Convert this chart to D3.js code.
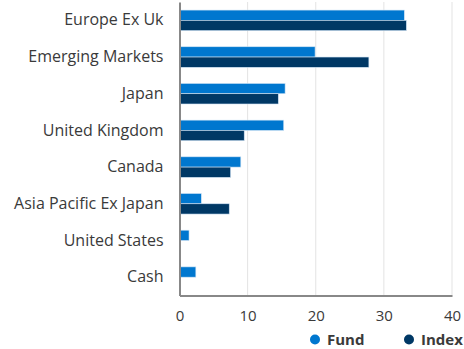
<!DOCTYPE html>
<html>
<head>
<meta charset="utf-8">
<script src="https://cdn.jsdelivr.net/npm/d3@7"></script>
<style>
  html, body { margin: 0; padding: 0; background: #fff; }
  svg { display: block; font-family: "Open Sans", "Noto Sans", sans-serif; }
</style>
</head>
<body>
<svg id="chart" width="464" height="349"></svg>
<script>
// Regional allocation, fund vs index (%)
const regions = ["Europe Ex Uk", "Emerging Markets", "Japan", "United Kingdom", "Canada", "Asia Pacific Ex Japan", "United States", "Cash"];
const fundValues = [33.0, 19.9, 15.5, 15.3, 9.0, 3.2, 1.4, 2.4];
const indexValues = [33.3, 27.8, 14.5, 9.5, 7.5, 7.3, 0, 0];
const seriesNames = ["Fund", "Index"];
const seriesColors = ["#0077cf", "#003865"];
const xTicks = [0, 10, 20, 30, 40];

const svg = d3.select("#chart");
const margin = { left: 179.5, right: 12, top: 2, bottom: 53.5 };
const width = 464, height = 349;

const x = d3.scaleLinear().domain([0, 40]).range([margin.left, width - margin.right]);
const y = d3.scaleBand().domain(regions).range([margin.top, height - margin.bottom]).paddingInner(0.44).paddingOuter(0.22);
const ySub = d3.scaleBand().domain(seriesNames).range([0, y.bandwidth()]);

// Vertical gridlines
svg.append("g")
  .selectAll("line")
  .data(xTicks.slice(1))
  .join("line")
  .attr("x1", d => x(d)).attr("x2", d => x(d))
  .attr("y1", margin.top).attr("y2", height - margin.bottom)
  .attr("stroke", "#e3e3e3").attr("stroke-width", 1);

// Bars
const rows = regions.map((r, i) => ({ region: r, values: [fundValues[i], indexValues[i]] }));
const groups = svg.append("g").selectAll("g")
  .data(rows).join("g")
  .attr("transform", d => `translate(0,${y(d.region)})`);

groups.selectAll("rect")
  .data(d => d.values.map((v, j) => ({ v, s: seriesNames[j], c: seriesColors[j] })).filter(e => e.v > 0))
  .join("rect")
  .attr("x", x(0))
  .attr("y", e => ySub(e.s))
  .attr("width", e => x(e.v) - x(0))
  .attr("height", ySub.bandwidth())
  .attr("fill", e => e.c)
  .attr("stroke", "#cfe3f5")
  .attr("stroke-width", 0.6);

// Category axis
const yAxis = svg.append("g")
  .attr("transform", `translate(${x(0)},0)`)
  .call(d3.axisLeft(y).tickSize(0).tickPadding(16));
yAxis.select(".domain").attr("stroke", "#888").attr("stroke-width", 2);
yAxis.selectAll("text").attr("font-size", 16).attr("fill", "#3a3a3a")
  .attr("font-family", "'Open Sans', 'Noto Sans', sans-serif");

// Value axis
const xAxis = svg.append("g")
  .attr("transform", `translate(0,${height - margin.bottom})`)
  .call(d3.axisBottom(x).tickValues(xTicks).tickSize(0).tickPadding(15).tickFormat(d3.format("d")));
xAxis.select(".domain").attr("stroke", "#888").attr("stroke-width", 2);
xAxis.selectAll("text").attr("font-size", 15).attr("fill", "#3a3a3a")
  .attr("font-family", "'Open Sans', 'Noto Sans', sans-serif");

// Legend
const legendX = [315, 409];
const legend = svg.append("g").selectAll("g")
  .data(seriesNames).join("g")
  .attr("transform", (d, i) => `translate(${legendX[i]},339.5)`);
legend.append("circle").attr("r", 5).attr("fill", (d, i) => seriesColors[i]);
legend.append("text")
  .attr("x", 12).attr("dy", "0.35em")
  .attr("font-size", 15).attr("font-weight", "bold").attr("fill", "#3a3a3a")
  .text(d => d);
</script>
</body>
</html>
